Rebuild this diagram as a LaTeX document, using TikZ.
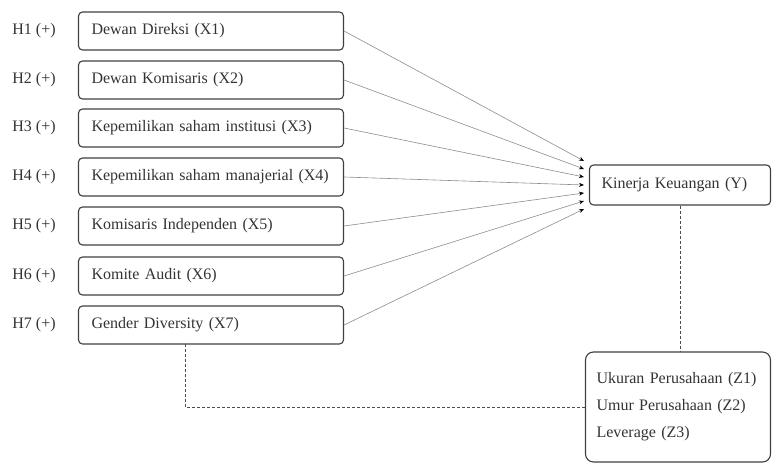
\documentclass[tikz,border=0pt]{standalone}
\usepackage{fontspec}
\setmainfont{Liberation Serif}
\usepackage{tikz}
\usetikzlibrary{arrows.meta}

\begin{document}
\begin{tikzpicture}[x=1pt,y=-1pt,>={Stealth[length=5pt,width=4pt,black]},
  font=\fontsize{16}{19}\selectfont,
  varbox/.style={draw=black!75,line width=1.1pt,rounded corners=4pt,align=left,text width=239pt,inner xsep=13pt,minimum height=38pt,text=black!80},
  hyplabel/.style={inner sep=0pt,text=black!80},
  link/.style={->,black!45,line width=0.6pt},
  modlink/.style={densely dashed,black!70,line width=0.7pt}]
  \useasboundingbox (0,0) rectangle (772,465);
  \node[hyplabel] (h1) at (34,31) {H1 (+)};
  \node[hyplabel] (h2) at (34,80) {H2 (+)};
  \node[hyplabel] (h3) at (34,128) {H3 (+)};
  \node[hyplabel] (h4) at (34,177) {H4 (+)};
  \node[hyplabel] (h5) at (34,226) {H5 (+)};
  \node[hyplabel] (h6) at (34,276) {H6 (+)};
  \node[hyplabel] (h7) at (34,325) {H7 (+)};
  \node[varbox] (x1) at (211,31) {Dewan Direksi (X1)};
  \node[varbox] (x2) at (211,80) {Dewan Komisaris (X2)};
  \node[varbox] (x3) at (211,128) {Kepemilikan saham institusi (X3)};
  \node[varbox] (x4) at (211,177) {Kepemilikan saham manajerial (X4)};
  \node[varbox] (x5) at (211,226) {Komisaris Independen (X5)};
  \node[varbox] (x6) at (211,276) {Komite Audit (X6)};
  \node[varbox] (x7) at (211,325) {Gender Diversity (X7)};
  \node[varbox,text width=157pt,inner xsep=12pt,minimum height=40pt] (y) at (680,185) {Kinerja Keuangan (Y)};
  \node[varbox,text width=163pt,inner xsep=11pt,minimum height=110pt,rounded corners=8pt] (z) at (678,407)
    {Ukuran Perusahaan (Z1)\\[8pt]Umur Perusahaan (Z2)\\[8pt]Leverage (Z3)};
  % arrow tips stacked on the left side of Y
  \coordinate (t1) at (584,161);
  \coordinate (t2) at (584,169);
  \coordinate (t3) at (584,177);
  \coordinate (t4) at (584,185);
  \coordinate (t5) at (584,193);
  \coordinate (t6) at (584,201);
  \coordinate (t7) at (584,209);
  \draw[link] (x1.east) -- (t1);
  \draw[link] (x2.east) -- (t2);
  \draw[link] (x3.east) -- (t3);
  \draw[link] (x4.east) -- (t4);
  \draw[link] (x5.east) -- (t5);
  \draw[link] (x6.east) -- (t6);
  \draw[link] (x7.east) -- (t7);
  \draw[modlink] (y.south) -- (y.south |- z.north);
  \coordinate (m7) at (185,344);
  \draw[modlink] (m7) |- (z.west);
\end{tikzpicture}
\end{document}
